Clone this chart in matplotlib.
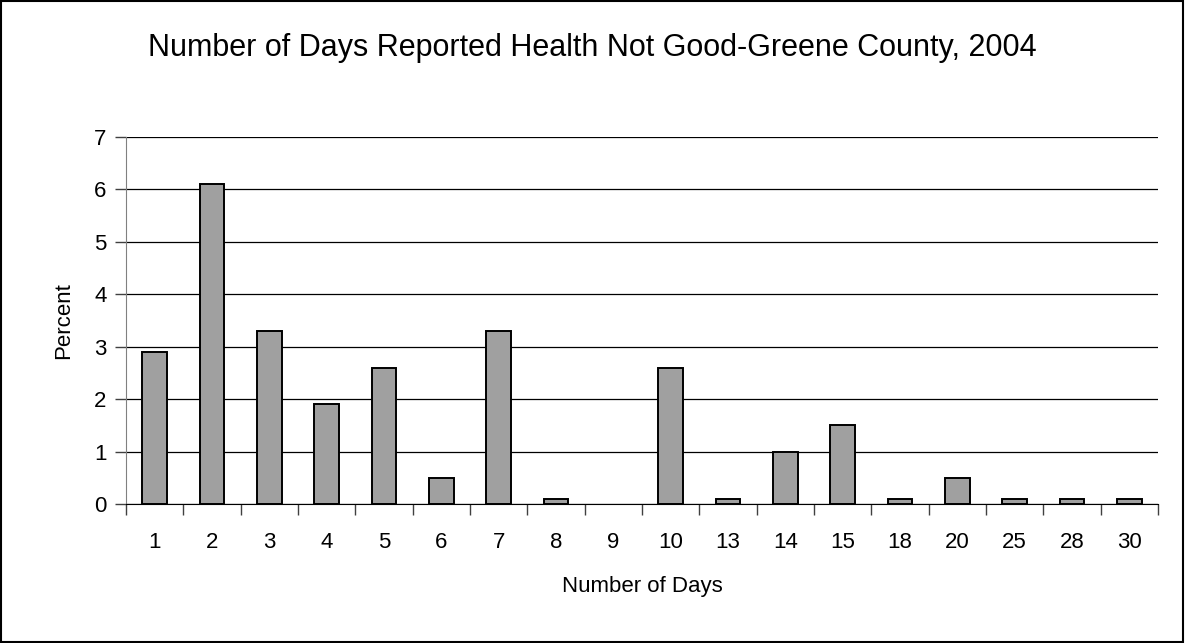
import matplotlib
matplotlib.use('Agg')
import matplotlib.pyplot as plt
import numpy as np

plt.rcParams['font.family'] = ['Liberation Sans', 'DejaVu Sans']

# data
days = ['1', '2', '3', '4', '5', '6', '7', '8', '9', '10',
        '13', '14', '15', '18', '20', '25', '28', '30']
percent = [2.9, 6.1, 3.3, 1.9, 2.6, 0.5, 3.3, 0.1, 0.0, 2.6,
           0.1, 1.0, 1.5, 0.1, 0.5, 0.1, 0.1, 0.1]
yticks = [0, 1, 2, 3, 4, 5, 6, 7]

figW = 11.85
figH = 6.43
fig = plt.figure(figsize=(figW, figH), dpi=100)

# border round the whole chart
fig.patches.append(plt.Rectangle((0.001, 0.002), 0.997, 0.996, transform=fig.transFigure,
                                 fill=False, edgecolor='black', linewidth=1.5))

ax = fig.add_axes([126/1185, 1 - 504/643, (1158 - 126)/1185, (504 - 137)/643])

x = np.arange(len(days))
bars = ax.bar(x, percent, width=0.43, color='#a0a0a0', edgecolor='black', linewidth=1.4, zorder=3)
# an empty category shows no outline
for b, v in zip(bars, percent):
    if v == 0:
        b.set_visible(False)

ax.set_xlim(-0.5, len(days) - 0.5)
ax.set_ylim(0, 7)
ax.set_yticks(yticks)
ax.set_yticklabels([str(t) for t in yticks], fontsize=16)
ax.yaxis.grid(True, color='black', linewidth=0.9, zorder=0)

# ticks sit between categories, labels in the middle
ax.set_xticks(np.arange(-0.5, len(days), 1))
ax.set_xticklabels([])
ax.set_xticks(x, minor=True)
ax.set_xticklabels(days, minor=True, fontsize=16)
ax.tick_params(axis='x', which='major', direction='out', length=8, width=1, color='#404040')
ax.tick_params(axis='x', which='minor', length=0, pad=20)
ax.tick_params(axis='y', direction='out', length=8, width=1, color='#404040', pad=6)

for side in ['top', 'right']:
    ax.spines[side].set_visible(False)
ax.spines['left'].set_color('#808080')
ax.spines['bottom'].set_color('black')

ax.set_xlabel('Number of Days', fontsize=16, labelpad=17)
ax.set_ylabel('Percent', fontsize=16, labelpad=14)

fig.text(0.5, 1 - 48/643, 'Number of Days Reported Health Not Good-Greene County, 2004',
         ha='center', va='center', fontsize=22)

plt.savefig('out.png', dpi=100)
